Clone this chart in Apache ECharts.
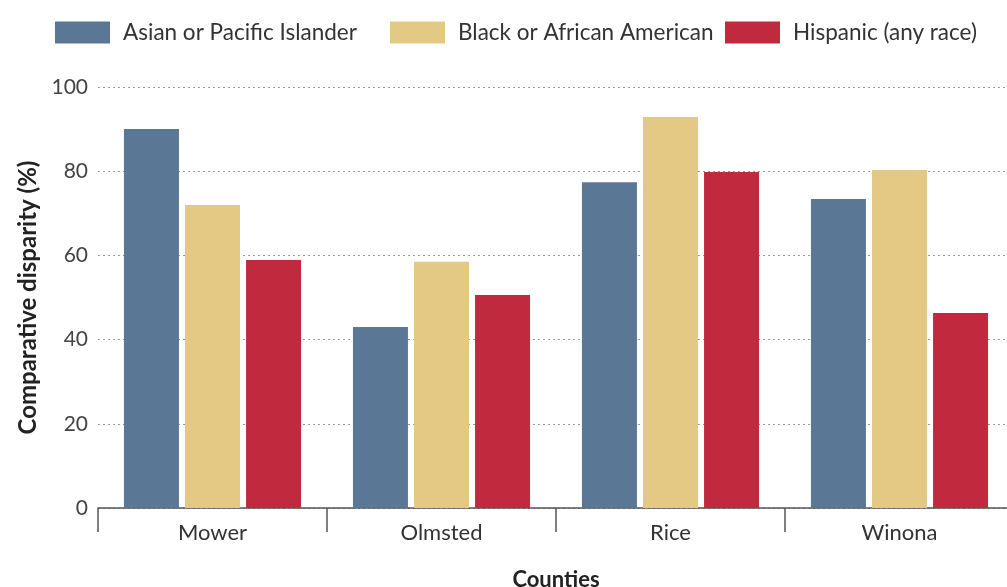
<!DOCTYPE html>
<html>
<head>
<meta charset="utf-8">
<script src="https://cdn.jsdelivr.net/npm/echarts@6/dist/echarts.min.js"></script>
<style>
  html, body { margin: 0; padding: 0; background: #fff; }
  #chart { width: 1007px; height: 587px; }
</style>
</head>
<body>
<div id="chart"></div>
<script>
// Comparative disparity by county and group
const counties = ['Mower', 'Olmsted', 'Rice', 'Winona'];
const groups = ['Asian or Pacific Islander', 'Black or African American', 'Hispanic (any race)'];
const asianPacific = [90, 43, 77.4, 73.4];
const blackAfricanAmerican = [72, 58.5, 92.9, 80.3];
const hispanic = [58.9, 50.6, 79.8, 46.3];
const yTicks = [0, 20, 40, 60, 80, 100];

const font = 'Lato, "Open Sans", sans-serif';
const colors = ['#5a7795', '#e3c983', '#c0293e'];
const legendLefts = [55, 390, 725];

const chart = echarts.init(document.getElementById('chart'), null, { renderer: 'canvas' });

function barSeries(name, data, color) {
  return {
    name: name,
    type: 'bar',
    data: data,
    barWidth: 55,
    barGap: '11%',
    itemStyle: { color: color },
    emphasis: { disabled: true }
  };
}

// one legend block per group so each key sits at its own spot
const legends = groups.map((g, i) => ({
  left: legendLefts[i],
  top: 21,
  padding: 0,
  itemWidth: 55,
  itemHeight: 22,
  icon: 'rect',
  selectedMode: false,
  textStyle: { fontSize: 22.5, color: '#333', fontFamily: font, padding: [0, 0, 0, 8] },
  data: [g]
}));

chart.setOption({
  animation: false,
  textStyle: { fontFamily: font },
  legend: legends,
  grid: { left: 98, right: -7, top: 87, bottom: 79, containLabel: false, outerBoundsMode: 'none' },
  xAxis: {
    type: 'category',
    data: counties,
    name: 'Counties',
    nameLocation: 'middle',
    nameGap: 61,
    nameTextStyle: { fontSize: 22, fontWeight: 'bold', color: '#222', fontFamily: font },
    axisLine: { lineStyle: { color: '#555', width: 1.5 } },
    axisTick: { show: true, length: 24, lineStyle: { color: '#555', width: 1.5 } },
    axisLabel: { fontSize: 22, color: '#333', margin: 14, fontFamily: font }
  },
  yAxis: {
    type: 'value',
    min: yTicks[0],
    max: yTicks[yTicks.length - 1],
    interval: 20,
    name: 'Comparative disparity (%)',
    nameLocation: 'middle',
    nameGap: 56,
    nameTextStyle: { fontSize: 24, fontWeight: 'bold', color: '#222', fontFamily: font },
    axisLine: { show: false },
    axisTick: { show: false },
    axisLabel: { fontSize: 21, color: '#444', margin: 10, fontFamily: font },
    splitLine: { lineStyle: { color: '#999', type: [2, 3], width: 1.2 } }
  },
  series: [
    barSeries(groups[0], asianPacific, colors[0]),
    barSeries(groups[1], blackAfricanAmerican, colors[1]),
    barSeries(groups[2], hispanic, colors[2])
  ]
});
</script>
</body>
</html>
